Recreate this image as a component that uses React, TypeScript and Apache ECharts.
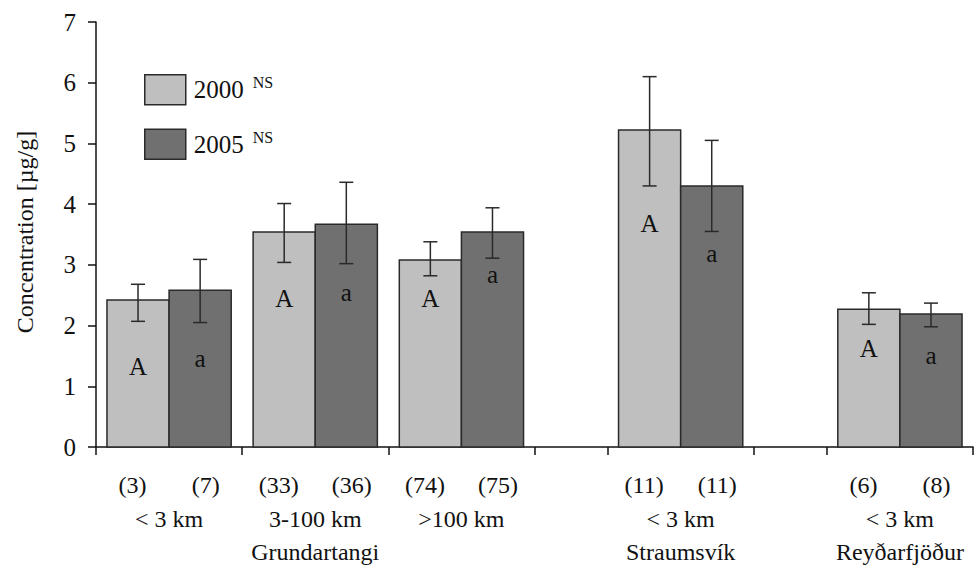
import React, { useEffect, useRef } from "react";
import * as echarts from "echarts";

// ---- data ----
const groupCenters = [1, 3, 5, 8, 11];
const distances = ["< 3 km", "3-100 km", ">100 km", "< 3 km", "< 3 km"];
const sites = ["Grundartangi", "Straumsvík", "Reyðarfjöður"];
const siteCenters = [3, 8, 11];
const counts2000 = ["(3)", "(33)", "(74)", "(11)", "(6)"];
const counts2005 = ["(7)", "(36)", "(75)", "(11)", "(8)"];
const mean2000 = [2.42, 3.54, 3.08, 5.22, 2.27];
const lo2000 = [2.07, 3.04, 2.82, 4.3, 2.02];
const hi2000 = [2.68, 4.01, 3.38, 6.1, 2.54];
const letterY2000 = [1.32, 2.45, 2.45, 3.68, 1.63];
const mean2005 = [2.58, 3.67, 3.54, 4.3, 2.19];
const lo2005 = [2.05, 3.02, 3.11, 3.55, 1.98];
const hi2005 = [3.09, 4.36, 3.94, 5.05, 2.37];
const letterY2005 = [1.45, 2.55, 2.84, 3.19, 1.5];
const xTicks = [0, 2, 4, 6, 7, 9, 10, 12];
const yTicks = [0, 1, 2, 3, 4, 5, 6, 7];

const FONT = "Liberation Serif";
const LIGHT = "#bfbfbf";
const DARK = "#707070";
const BARW = 0.85;

function makeSeries(name: string, color: string, side: number, means: number[], los: number[], his: number[], ly: number[], letter: string) {
  const data = groupCenters.map((c, i) => [c, means[i], los[i], his[i], ly[i]]);
  return {
    type: "custom",
    name,
    data,
    encode: { x: 0, y: 1 },
    itemStyle: { color, borderColor: "#2a2a2a", borderWidth: 1.5 },
    renderItem: (params: any, api: any) => {
      const c = api.value(0);
      const x0 = side < 0 ? c - BARW : c;
      const x1 = side < 0 ? c : c + BARW;
      const pTop = api.coord([x0, api.value(1)]);
      const pBot = api.coord([x1, 0]);
      const xm = api.coord([(x0 + x1) / 2, 0])[0];
      const yLo = api.coord([c, api.value(2)])[1];
      const yHi = api.coord([c, api.value(3)])[1];
      const yL = api.coord([c, api.value(4)])[1];
      const cap = 7;
      const lineStyle = { stroke: "#2a2a2a", lineWidth: 1.5 };
      return {
        type: "group",
        children: [
          {
            type: "rect",
            shape: { x: pTop[0], y: pTop[1], width: pBot[0] - pTop[0], height: pBot[1] - pTop[1] },
            style: { fill: color, stroke: "#2a2a2a", lineWidth: 1.5 },
          },
          { type: "line", shape: { x1: xm, y1: yLo, x2: xm, y2: yHi }, style: lineStyle },
          { type: "line", shape: { x1: xm - cap, y1: yLo, x2: xm + cap, y2: yLo }, style: lineStyle },
          { type: "line", shape: { x1: xm - cap, y1: yHi, x2: xm + cap, y2: yHi }, style: lineStyle },
          {
            type: "text",
            style: {
              x: xm,
              y: yL,
              text: letter,
              fill: "#111",
              fontFamily: FONT,
              fontSize: 25,
              align: "center",
              verticalAlign: "middle",
            },
          },
        ],
      };
    },
  };
}

export default function App() {
  const ref = useRef<HTMLDivElement>(null);
  useEffect(() => {
    if (!ref.current) return;
    const chart = echarts.init(ref.current, null, { renderer: "svg" });
    const countPos: number[] = [];
    const countLab: string[] = [];
    groupCenters.forEach((c, i) => {
      countPos.push(c - 0.5, c + 0.5);
      countLab.push(counts2000[i], counts2005[i]);
    });
    const labelStyle = { color: "#111", fontFamily: FONT, fontSize: 24 };
    const baseX = { type: "value", min: 0, max: 12, splitLine: { show: false }, gridIndex: 0, position: "bottom" };
    chart.setOption({
      animation: false,
      grid: { left: 96, right: 4, top: 22, bottom: 122 },
      legend: {
        orient: "vertical",
        left: 139,
        top: 69,
        itemWidth: 41,
        itemHeight: 30,
        itemGap: 23,
        selectedMode: false,
        data: [
          { name: "2000", icon: "rect", itemStyle: { color: LIGHT, borderColor: "#2a2a2a", borderWidth: 1.5 } },
          { name: "2005", icon: "rect", itemStyle: { color: DARK, borderColor: "#2a2a2a", borderWidth: 1.5 } },
        ],
        formatter: (n: string) => `{y|${n}}{s|NS}`,
        textStyle: {
          rich: {
            y: { fontFamily: FONT, fontSize: 25, lineHeight: 30, color: "#111", padding: [0, 0, 0, 3] },
            s: { fontFamily: FONT, fontSize: 16, lineHeight: 16, verticalAlign: "top", color: "#111", padding: [0, 0, 0, 9] },
          },
        },
      },
      xAxis: [
        {
          ...baseX,
          axisLine: { show: true, onZero: false, lineStyle: { color: "#111", width: 1.5 } },
          axisTick: { show: true, customValues: xTicks, length: 8, lineStyle: { color: "#111", width: 1.5 } },
          axisLabel: {
            ...labelStyle,
            customValues: countPos,
            margin: 26,
            formatter: (v: number) => {
              const k = countPos.findIndex((p) => Math.abs(p - v) < 1e-6);
              return k >= 0 ? countLab[k] : "";
            },
          },
        },
        {
          ...baseX,
          offset: 34,
          axisLine: { show: false },
          axisTick: { show: false },
          axisLabel: {
            ...labelStyle,
            customValues: groupCenters,
            margin: 26,
            formatter: (v: number) => {
              const k = groupCenters.indexOf(v);
              return k >= 0 ? distances[k] : "";
            },
          },
        },
        {
          ...baseX,
          offset: 67,
          axisLine: { show: false },
          axisTick: { show: false },
          axisLabel: {
            ...labelStyle,
            customValues: siteCenters,
            margin: 26,
            formatter: (v: number) => {
              const k = siteCenters.indexOf(v);
              return k >= 0 ? sites[k] : "";
            },
          },
        },
      ],
      yAxis: {
        type: "value",
        min: 0,
        max: 7,
        interval: 1,
        splitLine: { show: false },
        axisLine: { show: true, lineStyle: { color: "#111", width: 1.5 } },
        axisTick: { show: true, length: 8, lineStyle: { color: "#111", width: 1.5 } },
        axisLabel: { ...labelStyle, fontSize: 25, margin: 20, customValues: yTicks },
      },
      graphic: [
        {
          type: "text",
          x: 25,
          y: 232,
          rotation: Math.PI / 2,
          style: {
            text: "Concentration [µg/g]",
            fontFamily: FONT,
            fontSize: 24,
            fill: "#111",
            align: "center",
            verticalAlign: "middle",
          },
        },
      ],
      series: [
        makeSeries("2000", LIGHT, -1, mean2000, lo2000, hi2000, letterY2000, "A"),
        makeSeries("2005", DARK, 1, mean2005, lo2005, hi2005, letterY2005, "a"),
      ],
    });
    return () => chart.dispose();
  }, []);
  return <div ref={ref} style={{ width: 977, height: 569, position: "absolute", left: 0, top: 0 }} />;
}
